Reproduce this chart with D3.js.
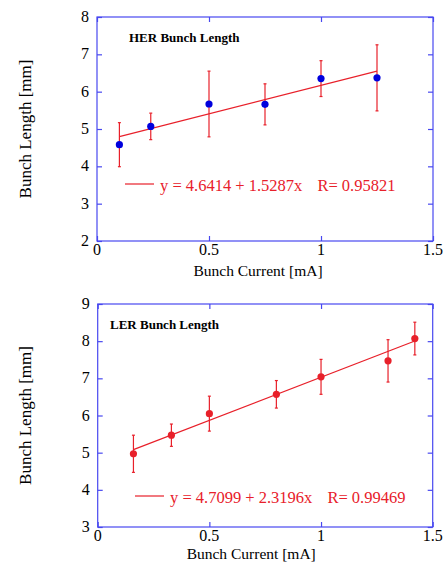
<!DOCTYPE html>
<html>
<head>
<meta charset="utf-8">
<script src="https://cdnjs.cloudflare.com/ajax/libs/d3/7.8.5/d3.min.js"></script>
<style>
  body { margin: 0; background: #fff; }
  svg { display: block; }
</style>
</head>
<body>
<svg id="chart" width="445" height="567" font-family="'Liberation Serif', 'Times New Roman', Times, serif"></svg>
<script>
// HER (top panel)
var herCurrent = [0.1, 0.24, 0.5, 0.75, 1.0, 1.25];
var herLength  = [4.58, 5.07, 5.67, 5.66, 6.35, 6.37];
var herError   = [0.59, 0.355, 0.88, 0.55, 0.48, 0.885];
var herFit     = [4.6414, 1.5287]; // intercept, slope
var herR       = "0.95821";

// LER (bottom panel)
var lerCurrent = [0.16, 0.33, 0.5, 0.8, 1.0, 1.3, 1.42];
var lerLength  = [4.97, 5.47, 6.05, 6.57, 7.04, 7.47, 8.07];
var lerError   = [0.5, 0.3, 0.47, 0.37, 0.47, 0.57, 0.44];
var lerFit     = [4.7099, 2.3196];
var lerR       = "0.99469";

var xTicks = [0, 0.5, 1, 1.5];
var herYTicks = [2, 3, 4, 5, 6, 7, 8];
var lerYTicks = [3, 4, 5, 6, 7, 8, 9];

var axisColor = "#4848f0",
    red = "#e8202a",
    blue = "#0000dd";

var svg = d3.select("#chart");

function drawPanel(o) {
  var x = d3.scaleLinear().domain([0, 1.5]).range([o.left, o.right]);
  var y = d3.scaleLinear().domain(d3.extent(o.yTicks)).range([o.bottom, o.top]);
  var g = svg.append("g");

  // frame
  g.append("rect")
    .attr("x", o.left).attr("y", o.top)
    .attr("width", o.right - o.left).attr("height", o.bottom - o.top)
    .attr("fill", "none").attr("stroke", axisColor).attr("stroke-width", 1.2);

  // inward ticks on all sides
  var tl = 5;
  function tickAxis(axis, tr) {
    var a = g.append("g").attr("transform", tr).call(axis);
    a.select(".domain").remove();
    a.selectAll("line").attr("stroke", axisColor).attr("stroke-width", 1.2);
    a.selectAll("text").remove();
  }
  tickAxis(d3.axisBottom(x).tickValues(xTicks).tickSize(-tl), "translate(0," + o.bottom + ")");
  tickAxis(d3.axisTop(x).tickValues(xTicks).tickSize(-tl), "translate(0," + o.top + ")");
  tickAxis(d3.axisLeft(y).tickValues(o.yTicks).tickSize(-tl), "translate(" + o.left + ",0)");
  tickAxis(d3.axisRight(y).tickValues(o.yTicks).tickSize(-tl), "translate(" + o.right + ",0)");

  // tick labels
  g.selectAll(".xl").data(xTicks).enter().append("text")
    .attr("x", function (d) { return x(d); })
    .attr("y", o.bottom + 14)
    .attr("text-anchor", "middle")
    .attr("font-size", 16)
    .text(function (d) { return d; });
  g.selectAll(".yl").data(o.yTicks).enter().append("text")
    .attr("x", o.left - 8)
    .attr("y", function (d) { return y(d) + 5; })
    .attr("text-anchor", "end")
    .attr("font-size", 16)
    .text(function (d) { return d; });

  // axis titles
  g.append("text")
    .attr("x", (o.left + o.right) / 2 + o.xlabDx)
    .attr("y", o.bottom + o.xlabDy)
    .attr("text-anchor", "middle")
    .attr("font-size", 15.5)
    .text("Bunch Current [mA]");
  g.append("text")
    .attr("transform", "translate(" + 31 + "," + ((o.top + o.bottom) / 2) + ") rotate(-90)")
    .attr("text-anchor", "middle")
    .attr("font-size", 17)
    .text("Bunch Length [mm]");

  // panel title
  g.append("text")
    .attr("x", o.titleX).attr("y", o.top + 25)
    .attr("font-size", 13).attr("font-weight", "bold")
    .text(o.title);

  // fit line over the data range
  var xr = d3.extent(o.xs);
  var line = d3.line()
    .x(function (d) { return x(d); })
    .y(function (d) { return y(o.fit[0] + o.fit[1] * d); });
  g.append("path").datum(xr)
    .attr("d", line).attr("fill", "none")
    .attr("stroke", red).attr("stroke-width", 1.2);

  // error bars
  var pts = o.xs.map(function (d, i) { return { x: d, y: o.ys[i], e: o.es[i] }; });
  var eb = g.selectAll(".eb").data(pts).enter().append("g");
  eb.append("line")
    .attr("x1", function (d) { return x(d.x); }).attr("x2", function (d) { return x(d.x); })
    .attr("y1", function (d) { return y(d.y - d.e); }).attr("y2", function (d) { return y(d.y + d.e); })
    .attr("stroke", red).attr("stroke-width", 1.2);
  [-1, 1].forEach(function (s) {
    eb.append("line")
      .attr("x1", function (d) { return x(d.x) - 1.5; }).attr("x2", function (d) { return x(d.x) + 1.5; })
      .attr("y1", function (d) { return y(d.y + s * d.e); }).attr("y2", function (d) { return y(d.y + s * d.e); })
      .attr("stroke", red).attr("stroke-width", 1.2);
  });

  g.selectAll(".pt").data(pts).enter().append("circle")
    .attr("cx", function (d) { return x(d.x); })
    .attr("cy", function (d) { return y(d.y); })
    .attr("r", 3.6)
    .attr("fill", o.markColor);

  // legend
  g.append("line")
    .attr("x1", o.legX).attr("x2", o.legX + 29)
    .attr("y1", o.legY - 7).attr("y2", o.legY - 7)
    .attr("stroke", red).attr("stroke-width", 1.2);
  var lt = g.append("text")
    .attr("x", o.legX + 35).attr("y", o.legY)
    .attr("font-size", 16.5).attr("fill", red);
  lt.append("tspan").text("y = " + o.fit[0] + " + " + o.fit[1] + "x");
  lt.append("tspan").attr("dx", 15).text("R= " + o.r);
}

drawPanel({
  left: 97, right: 433, top: 17, bottom: 241,
  yTicks: herYTicks, xs: herCurrent, ys: herLength, es: herError,
  fit: herFit, r: herR, markColor: blue,
  title: "HER Bunch Length", titleX: 129,
  legX: 125, legY: 191, xlabDx: -7, xlabDy: 35
});

drawPanel({
  left: 97.7, right: 432.7, top: 304, bottom: 527,
  yTicks: lerYTicks, xs: lerCurrent, ys: lerLength, es: lerError,
  fit: lerFit, r: lerR, markColor: red,
  title: "LER Bunch Length", titleX: 110,
  legX: 135, legY: 503, xlabDx: -14, xlabDy: 32
});
</script>
</body>
</html>
